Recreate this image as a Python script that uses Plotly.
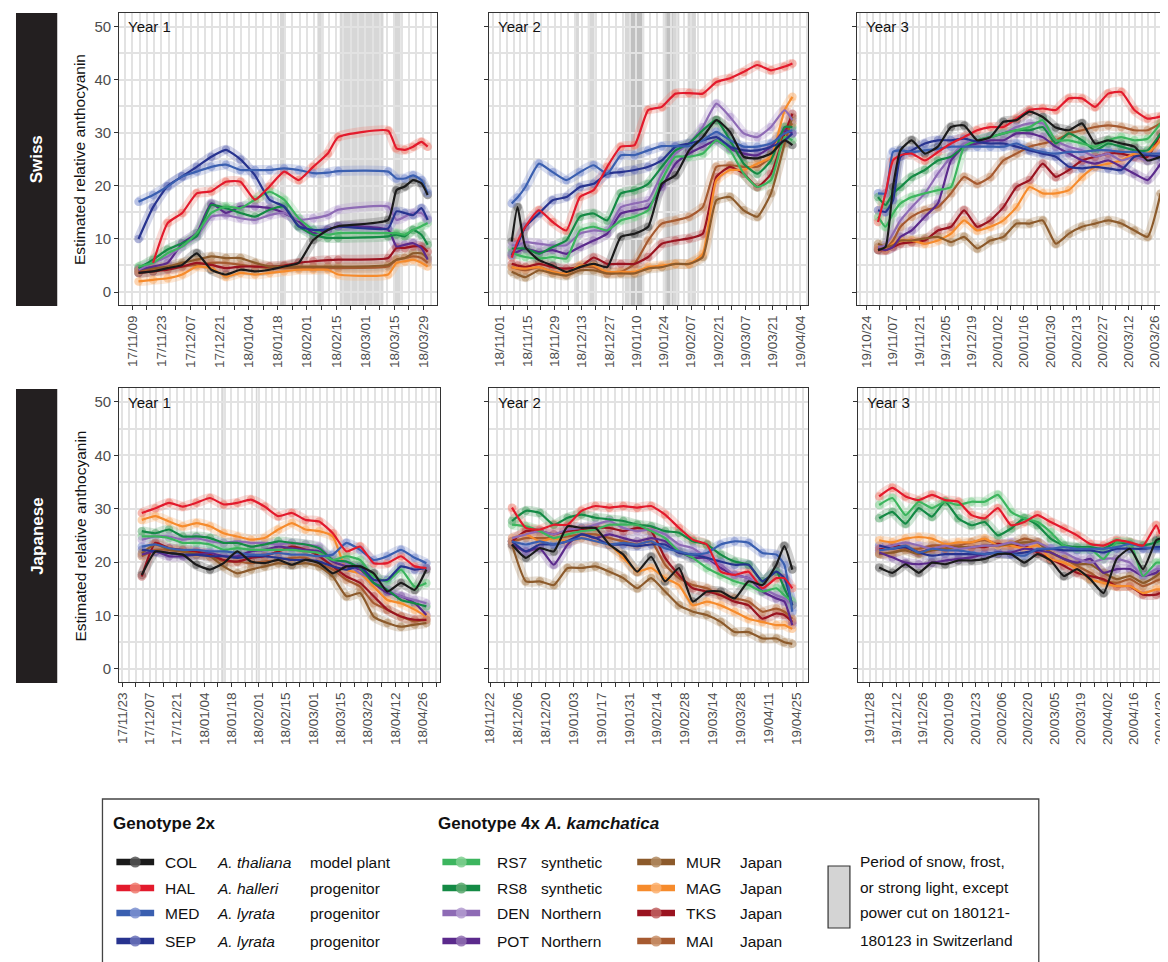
import pandas as pd
import plotly.graph_objects as go

# page is 1168x962; the html body has an 8px margin, so the figure is drawn 8px in
W, H, OFF = 1160, 954, 8
FONT = "Liberation Sans, Arial, Helvetica, sans-serif"

GENOTYPES = ["COL", "HAL", "MED", "SEP", "RS7", "RS8", "DEN", "POT", "MUR", "MAG", "TKS", "MAI"]
LINE_COLORS = {"COL": "#1a1a1a", "HAL": "#e31a2c", "MED": "#3a5fb0", "SEP": "#27338f",
               "RS7": "#3cb55e", "RS8": "#148a45", "DEN": "#8e6bb5", "POT": "#5b2a8c",
               "MUR": "#8c5a2b", "MAG": "#f68b2c", "TKS": "#9a1320", "MAI": "#a65a30"}
POINT_COLORS = {"COL": "#555555", "HAL": "#ee7d70", "MED": "#7d90d0", "SEP": "#6a72b8",
                "RS7": "#7fcf8f", "RS8": "#5aa86f", "DEN": "#b39bd0", "POT": "#8f6fb0",
                "MUR": "#b08a60", "MAG": "#fbb070", "TKS": "#c06262", "MAI": "#c8906a"}

# ---------------- Swiss, Year 1 ----------------
SW1_DATES = ["2017-11-12", "2017-11-19", "2017-11-26", "2017-12-03", "2017-12-10", "2017-12-17",
             "2017-12-24", "2017-12-31", "2018-01-07", "2018-01-14", "2018-01-21", "2018-01-28",
             "2018-02-04", "2018-02-11", "2018-02-16", "2018-03-12", "2018-03-16", "2018-03-20",
             "2018-03-24", "2018-03-28", "2018-03-31"]
SW1_COL = [3.6, 3.9, 4.5, 5.1, 7.3, 4.2, 3.3, 4.2, 3.9, 4.2, 4.8, 5.5, 9.8, 11.7, 12.4, 13.6, 19.2, 19.9, 21.1, 20.5, 18.3]
SW1_HAL = [None, 5.5, 13, 14.9, 18.6, 19, 20.8, 20.8, 17.4, 19.9, 22.7, 21.1, 23.6, 26.1, 29.2, 30.4, 27.1, 26.8, 27.4, 28.3, 27.4]
SW1_MED = [17, 18.3, 19.9, 21.8, 22.7, 23.6, 24, 23, 23, 23, 23.3, 23, 22.4, 22.5, 22.8, 22.7, 21.4, 21.4, 22, 21.1, 18.6]
SW1_SEP = [10, 16, 20, 21.8, 23.6, 25.5, 26.8, 25, 22, 17.4, 16.1, 12.4, 11.7, 11.8, 12.3, 12, 15.2, 14.9, 14.5, 15.8, 13.6]
SW1_RS7 = [4.8, 5.5, 7.3, 8.6, 11.1, 14.9, 16.1, 15.8, 17.4, 18.9, 17.4, 13.9, 11.7, 10.8, 11.1, 11.1, 11.1, 10.8, 11.7, 12.4, 13]
SW1_RS8 = [4.5, 6.1, 8, 9.2, 10.5, 16.4, 15.8, 14.9, 14.2, 15.5, 16.1, 12.4, 10.8, 10.2, 10.2, 10.5, 10.8, 10.5, 11.7, 10.8, 8.9]
SW1_DEN = [4.2, 5.5, 6.7, 8.6, 10.5, 14.2, 14.5, 13.9, 13.6, 14.5, 14.9, 13.6, 13.9, 14.5, 15.5, 16.1, 13.6, 14.2, 14.9, 14.9, 13.6]
SW1_POT = [4.2, 4.8, 5.5, 9.2, 11.1, 16.7, 14.9, 16.1, 16.1, 15.8, 14.9, 13.3, 11.1, 11.7, 12.4, 11.7, 8.6, 8.9, 9.2, 8.3, 6.1]
SW1_MUR = [4.2, 4.5, 4.8, 5.5, 6.1, 6.7, 6.4, 6.4, 5.5, 4.8, 4.8, 4.8, 4.8, 4.8, 4.8, 5.1, 6.1, 6.4, 7.3, 7.3, 6.4]
SW1_MAG = [2, 2.3, 2.6, 3.3, 4.8, 4.5, 2.9, 3.6, 3.3, 3.6, 3.9, 4.2, 4.2, 4.2, 3.3, 3.3, 5.5, 5.8, 6.1, 5.5, 4.8]
SW1_TKS = [3.6, 3.9, 4.2, 4.8, 5.5, 5.1, 4.5, 4.8, 4.8, 4.8, 5, 5.5, 5.8, 6, 6.1, 6.4, 8.3, 8.3, 8.6, 8.6, 7.6]
SW1_MAI = [3.9, 4.2, 4.5, 4.8, 5.1, 5.5, 5.5, 5.1, 4.8, 4.5, 4.5, 4.5, 4.5, 4.5, 4.5, 4.8, 6.1, 6.4, 6.7, 6.4, 5.5]

# ---------------- Swiss, Year 2 ----------------
SW2_DATES = ["2018-11-07", "2018-11-10", "2018-11-14", "2018-11-21", "2018-11-28", "2018-12-05",
             "2018-12-12", "2018-12-19", "2018-12-26", "2019-01-02", "2019-01-09", "2019-01-16",
             "2019-01-23", "2019-01-30", "2019-02-06", "2019-02-13", "2019-02-20", "2019-02-27",
             "2019-03-06", "2019-03-13", "2019-03-20", "2019-03-27", "2019-03-31"]
SW2_COL = [9.5, 16, 8.5, 6, 5, 3.8, 4.7, 5.3, 4.7, 10.4, 11, 12.3, 20.4, 22, 26.7, 29.2, 32.4, 30.2, 25.5, 25.2, 26.1, 28.6, 27.7]
SW2_HAL = [6.5, 9.5, 12.3, 15.4, 13.2, 11.6, 17.9, 19.2, 23.6, 27.4, 27.7, 34.3, 34.9, 37.4, 37.5, 37.4, 39.6, 40.3, 41.5, 42.8, 41.8, 42.5, 43.1]
SW2_MED = [16.7, 17.8, 19.8, 24.2, 22.6, 21.1, 22.6, 23.9, 22.3, 25.8, 25.8, 26.7, 27.5, 27.5, 27.5, 28.6, 30.2, 28.6, 27.4, 27.4, 28, 29.9, 30.5]
SW2_SEP = [6.9, 9, 12.3, 14.8, 17.3, 17.9, 19.8, 20.4, 22.3, 22.6, 23, 23.6, 24.8, 27.4, 28, 28.6, 29.2, 27.4, 26.7, 26.7, 27.4, 28.6, 29.9]
SW2_RS7 = [7.5, 7, 6.6, 6.3, 6.6, 6.3, 11.6, 12.3, 11.6, 13.5, 14.2, 15.4, 21.1, 25.5, 25.5, 26.1, 28.6, 26.7, 22.3, 19.8, 21.1, 29.2, 28.6]
SW2_RS8 = [8.2, 8.2, 8.2, 7.2, 8.5, 9.7, 14.2, 14.8, 13.5, 18.6, 19.2, 20.4, 23.6, 26.7, 28, 30.5, 32.4, 28.6, 24.2, 22.3, 24.8, 31.1, 31.1]
SW2_DEN = [8.8, 8.8, 9.4, 9.1, 8.8, 8.8, 11, 11.6, 11.6, 16, 16.7, 17.3, 22.3, 26.1, 28, 31.1, 35.5, 33, 29.9, 29.2, 31.1, 34.3, 32.4]
SW2_POT = [7.2, 7.6, 8.2, 7.5, 7.9, 7.2, 8.5, 9.7, 11, 14.8, 15.4, 16, 19.8, 24.2, 26.1, 27.4, 28.6, 27, 26.1, 25.8, 27.4, 30.5, 29.9]
SW2_MUR = [3.8, 3.3, 2.8, 4.1, 3.5, 3.1, 4.1, 4.1, 3.5, 3.5, 3.5, 4.4, 4.7, 5.3, 5.3, 6.6, 17.3, 17.9, 15.4, 14.2, 18.6, 28, 33]
SW2_MAG = [4.7, 4.5, 4.4, 4.7, 3.8, 3.5, 5, 5, 3.8, 3.8, 3.8, 4.7, 5, 5.3, 5.3, 7.2, 21.1, 23, 23, 24.2, 25.5, 34.3, 36.8]
SW2_TKS = [5.3, 5, 4.7, 5.3, 4.7, 4.4, 4.7, 6.5, 5.3, 5.3, 5.3, 6.6, 9.1, 9.7, 10.1, 11, 21.7, 23.6, 22.3, 19.8, 22.3, 29.9, 33.6]
SW2_MAI = [4.7, 4.4, 4.1, 4.7, 3.8, 3.5, 4.7, 4.7, 3.5, 3.8, 5.3, 9.7, 12.9, 13.5, 14.2, 16, 23.6, 23.9, 23.6, 23.6, 25.5, 29.9, 31.8]

# ---------------- Swiss, Year 3 ----------------
SW3_DATES = ["2019-10-30", "2019-11-03", "2019-11-07", "2019-11-11", "2019-11-17", "2019-11-24",
             "2019-12-01", "2019-12-08", "2019-12-15", "2019-12-22", "2019-12-29", "2020-01-05",
             "2020-01-12", "2020-01-19", "2020-01-26", "2020-02-02", "2020-02-09", "2020-02-16",
             "2020-02-23", "2020-03-01", "2020-03-08", "2020-03-15", "2020-03-22", "2020-03-29"]
SW3_COL = [7.9, 8.5, 19.8, 26.7, 28.6, 26.1, 27.4, 31.1, 31.4, 28.6, 29.2, 32.1, 32.4, 34, 33, 31, 30.5, 31.8, 28, 28.6, 28, 27.4, 24.8, 25.5]
SW3_HAL = [13.2, 18.6, 24.8, 25.8, 26.1, 24.8, 26.4, 28, 29.2, 30.5, 31.1, 31.1, 32.7, 34.3, 34.6, 34.3, 36.5, 36.5, 34.9, 37.4, 37.7, 34.3, 32.7, 33.1]
SW3_MED = [18.6, 18.6, 26.4, 26.7, 26.4, 26.7, 27, 27.4, 27.4, 27.4, 27.4, 27.4, 28, 27, 26.4, 26.1, 26.4, 26.4, 26.7, 26.7, 26.4, 26.4, 26.1, 26.1]
SW3_SEP = [15.4, 15.1, 17.3, 25.5, 26.7, 28, 28.6, 28.6, 28.9, 28.3, 28, 28, 27.4, 26.7, 26.1, 25.5, 23.6, 23.3, 23.6, 23.3, 23, 25.5, 25.8, 25.5]
SW3_RS7 = [14.2, 12.3, 14.8, 16.7, 17.9, 18.6, 19.2, 19.8, 27.4, 28.6, 29.2, 29.9, 30.5, 31.1, 32.4, 28.6, 28.6, 28, 27.4, 28.6, 29.2, 28.6, 28.9, 31.8]
SW3_RS8 = [17.9, 16.4, 18.6, 19.8, 21.7, 23, 24.8, 25.5, 27.4, 28.6, 29.2, 29.9, 30.5, 30.5, 31.1, 28, 29.9, 28.6, 26.7, 28, 27.4, 26.7, 26.7, 29.9]
SW3_DEN = [8.5, 8.8, 11, 13.5, 16, 18.6, 22.3, 25.5, 28, 28.6, 29.2, 29.9, 31.1, 31.8, 31.8, 28.6, 27.4, 26.7, 25.5, 26.1, 24.8, 25.5, 24.8, 26.1]
SW3_POT = [8.2, 7.9, 8.5, 10.4, 11.6, 14.2, 16.7, 24.8, 27.4, 28, 28.6, 28.6, 29.9, 29.9, 29.2, 27.4, 26.1, 24.8, 24.2, 24.8, 23.6, 22.3, 21.1, 24.2]
SW3_MUR = [9.1, 8.5, 8.8, 9.7, 9.7, 10.1, 10.4, 9.4, 10.4, 8.2, 9.7, 10.4, 12.9, 12.9, 13.5, 9.1, 11, 12.3, 12.9, 13.5, 12.9, 11.6, 10.4, 18.6]
SW3_MAG = [8.2, 7.9, 9.1, 9.7, 9.7, 9.1, 9.7, 11, 13.5, 11.6, 12.3, 13.5, 16, 19.8, 18.6, 18.6, 19.2, 21.7, 23.6, 24.2, 24.8, 26.1, 26.1, 28.6]
SW3_TKS = [7.9, 7.9, 8.5, 9.1, 9.4, 9.7, 11.6, 12.3, 15.4, 12.3, 13.5, 16, 19.8, 21.1, 24.2, 21.7, 23, 24.8, 25.5, 26.1, 26.1, 25.5, 25.5, 29.9]
SW3_MAI = [8.5, 8.2, 9.7, 12.3, 14.2, 15.4, 16, 18.6, 21.7, 20.4, 21.7, 24.8, 26.1, 27.4, 28, 28.6, 29.9, 30.5, 31.1, 31.4, 31.1, 30.5, 30.5, 31.8]

# ---------------- Japanese, Year 1 ----------------
JP1_DATES = ["2017-12-03", "2017-12-10", "2017-12-17", "2017-12-24", "2017-12-31", "2018-01-07",
             "2018-01-14", "2018-01-21", "2018-01-28", "2018-02-04", "2018-02-11", "2018-02-18",
             "2018-02-25", "2018-03-04", "2018-03-11", "2018-03-18", "2018-03-25", "2018-04-01",
             "2018-04-08", "2018-04-15", "2018-04-22", "2018-04-28"]
JP1_COL = [17.6, 22, 21.7, 21.4, 19.5, 18.6, 19.8, 22, 20.1, 19.8, 20.4, 19.5, 20.4, 19.8, 17.9, 19.2, 19.2, 17.9, 14.5, 16.1, 14.8, 18.6]
JP1_HAL = [29.2, 30.1, 31.1, 30.4, 31.1, 32, 30.8, 31.1, 31.7, 30.4, 28.6, 29.2, 27.9, 27.6, 25.4, 22, 22.9, 19.8, 19.8, 21.1, 19.2, 18.9]
JP1_MED = [22.9, 23.3, 22.6, 22.3, 22.3, 22, 22, 21.7, 21.4, 21.4, 21.7, 21.4, 21.4, 21.1, 21.4, 23.6, 22.3, 20.4, 21.1, 22.3, 20.8, 19.8]
JP1_SEP = [22.3, 22, 21.7, 21.4, 21.4, 21.1, 21.1, 20.8, 21.1, 21.1, 20.8, 20.4, 20.4, 20.1, 19.2, 18.6, 19.2, 16.7, 16.7, 19.2, 18.6, 18.9]
JP1_RS7 = [24.8, 24.8, 24.5, 23.6, 23.6, 23.3, 22.3, 22.6, 22.3, 22.3, 22.3, 22.3, 22, 21.7, 20.4, 21.1, 20.4, 17.3, 16.4, 18.6, 15.4, 16.1]
JP1_RS8 = [25.8, 25.4, 26.1, 24.8, 24.8, 24.5, 23.6, 23.6, 22.9, 23.3, 23.9, 23.6, 23.3, 22.6, 20.4, 20.1, 18.9, 16.1, 14.8, 12.9, 12.3, 11.7]
JP1_DEN = [24.2, 24.8, 24.8, 24.2, 24.5, 23.9, 23.6, 23.9, 23.6, 23.6, 23.3, 23.6, 23.3, 22.9, 20.4, 19.8, 17.9, 16.7, 14.8, 13.6, 12.9, 12.3]
JP1_POT = [21.4, 22, 21.1, 21.1, 21.4, 21.7, 21.1, 21.1, 22, 22.3, 22.9, 22.6, 22.3, 22, 20.1, 19.2, 18.6, 16.1, 14.2, 13.6, 12.3, 10.1]
JP1_MUR = [21.7, 23.3, 22.3, 22, 21.4, 21.1, 19.2, 17.9, 18.6, 19.2, 19.8, 19.5, 19.8, 19.2, 17.3, 13.6, 14.2, 9.8, 8.6, 7.9, 8.3, 8.6]
JP1_MAG = [27.9, 28.6, 27.6, 26.7, 27.3, 26.7, 25.4, 24.8, 24.2, 24.5, 26.1, 27.3, 26.1, 25.8, 24.8, 18.6, 17.9, 15.4, 12.9, 12.3, 11.1, 9.8]
JP1_TKS = [17.3, 23.6, 22.6, 22.3, 22, 21.4, 20.4, 20.1, 20.8, 21.1, 22, 22.9, 22.3, 21.1, 19.2, 17.3, 16.1, 13.6, 11.1, 9.8, 9.2, 9.2]
JP1_MAI = [21.1, 22.3, 22.3, 22, 21.7, 21.1, 20.1, 20.1, 19.8, 20.1, 20.4, 20.8, 20.8, 19.8, 18.6, 16.7, 15.4, 12.3, 11.1, 9.8, 8.9, 9.2]

# ---------------- Japanese, Year 2 ----------------
JP2_DATES = ["2018-12-03", "2018-12-10", "2018-12-17", "2018-12-24", "2018-12-31", "2019-01-07",
             "2019-01-14", "2019-01-21", "2019-01-28", "2019-02-04", "2019-02-11", "2019-02-18",
             "2019-02-25", "2019-03-04", "2019-03-11", "2019-03-18", "2019-03-25", "2019-04-01",
             "2019-04-08", "2019-04-15", "2019-04-19", "2019-04-23"]
JP2_COL = [23.3, 20.8, 22.6, 22, 26.7, 26.4, 26.4, 23.3, 21.4, 18.2, 21, 16.4, 18.9, 12.6, 14.5, 14.5, 13.2, 16.4, 15.7, 19.5, 23, 18.6]
JP2_HAL = [30.2, 26.4, 26.1, 27, 27, 29.6, 30.5, 30.2, 30.5, 30.2, 30.5, 28.9, 26.4, 24.2, 23.3, 18.2, 17.6, 18.2, 15.1, 17, 17, 15.1]
JP2_MED = [23.9, 23.3, 23.9, 23.3, 23.9, 24.5, 23.9, 23.3, 23.6, 23.3, 23.9, 22.6, 22, 21.4, 21.7, 23.3, 23.9, 23.6, 21.7, 21.4, 19.5, 10.7]
JP2_SEP = [23.9, 22, 23.3, 23.3, 23.9, 25.2, 24.5, 23.3, 23.3, 23, 23.3, 23.3, 21.7, 21.4, 20.8, 20.1, 19.5, 19.5, 16.4, 18.2, 17, 11.9]
JP2_RS7 = [27, 26.7, 25.8, 24.5, 25.2, 25.8, 26.1, 27, 27, 27, 25.8, 24.5, 22, 20.8, 18.9, 17.6, 16.4, 15.7, 14.5, 15.1, 13.8, 12.6]
JP2_RS8 = [27.7, 29.6, 29.2, 27, 28.3, 28.9, 28.3, 28, 27.7, 27, 26.7, 25.8, 25.5, 23.9, 23.3, 21.4, 20.1, 19.5, 16.4, 18.2, 15.1, 11.9]
JP2_DEN = [24.5, 25.2, 25.8, 25.2, 26.1, 26.4, 27, 27.7, 26.4, 25.8, 26.1, 25.2, 23.3, 22.6, 20.8, 19.5, 17.6, 17, 15.1, 13.8, 13.2, 11.9]
JP2_POT = [23.3, 22, 22.6, 19.5, 23.3, 25.2, 24.5, 25.2, 24.5, 23.9, 24.5, 23.9, 22, 20.8, 20.8, 18.9, 17.6, 17, 14.5, 13.2, 12.6, 8.2]
JP2_MUR = [23.3, 16.4, 16.4, 15.7, 18.9, 18.9, 19.2, 18.2, 17, 15.1, 17, 14.5, 11.9, 10.7, 10.1, 8.8, 6.9, 6.9, 5.7, 5.7, 5, 4.7]
JP2_MAG = [24.5, 25.2, 23.9, 24.5, 23.9, 24.5, 23.9, 23.3, 20.8, 18.2, 18.9, 17, 15.7, 11.9, 12.6, 11.9, 10.7, 9.4, 8.8, 8.2, 8.2, 7.5]
JP2_TKS = [23.9, 25.8, 25.8, 25.2, 25.8, 26.1, 26.4, 26.4, 25.8, 26.4, 25.8, 20.8, 17.6, 15.1, 14.5, 13.8, 12.6, 11.9, 9.4, 10.4, 10.1, 8.8]
JP2_MAI = [23.9, 24.5, 24.5, 24.5, 24.8, 25.2, 25.2, 24.5, 23.9, 23.3, 23.9, 19.5, 17, 15.7, 15.1, 13.8, 13.2, 12.6, 10.7, 11.3, 10.7, 9.4]

# ---------------- Japanese, Year 3 ----------------
JP3_DATES = ["2019-12-03", "2019-12-10", "2019-12-17", "2019-12-24", "2019-12-31", "2020-01-07",
             "2020-01-14", "2020-01-21", "2020-01-28", "2020-02-04", "2020-02-11", "2020-02-18",
             "2020-02-25", "2020-03-03", "2020-03-10", "2020-03-17", "2020-03-24", "2020-03-31",
             "2020-04-07", "2020-04-14", "2020-04-21", "2020-04-28", "2020-04-30"]
JP3_COL = [19, 18, 19.6, 18, 19.9, 19.6, 20.3, 20.3, 20.6, 21.5, 21.5, 19.9, 21.5, 20.3, 17.4, 18.7, 16.8, 14.2, 20.6, 22.5, 18.7, 24.1, 24.4]
JP3_HAL = [32.3, 33.9, 32.3, 31.6, 32.6, 31.6, 31.3, 28.8, 28.2, 30.1, 26.9, 27.5, 28.8, 27.5, 26.3, 25, 23.4, 23.1, 24.1, 23.7, 23.1, 26.9, 25.3]
JP3_MED = [22.2, 22.5, 23.1, 21.8, 22.5, 22.2, 22.2, 21.8, 21.5, 21.8, 21.5, 21.2, 22.5, 22.5, 22.8, 22.5, 22.5, 22.5, 22.8, 23.4, 22.8, 22.5, 22.5]
JP3_SEP = [23.1, 22.5, 22.8, 21.8, 21.2, 21.5, 21.5, 21.5, 21.5, 21.8, 21.5, 21.8, 22.2, 22.5, 22.2, 22.2, 22.2, 21.8, 22.5, 22.5, 22.5, 22.8, 22.8]
JP3_RS7 = [30.7, 32, 28.8, 31.3, 30.1, 31.3, 30.7, 31.3, 31.3, 32.6, 29.4, 28.2, 27.5, 25.6, 23.1, 22.5, 22.5, 20.6, 23.7, 23.7, 17.4, 19.9, 19.9]
JP3_RS8 = [28.2, 29.4, 27.2, 30.1, 28.5, 31.3, 28.2, 26.9, 27.5, 25, 26.3, 28.2, 26.9, 24.4, 23.1, 22.8, 22.8, 22.5, 23.7, 23.4, 23.1, 23.7, 24.1]
JP3_DEN = [22.8, 23.1, 23.7, 23.1, 22.5, 23.1, 22.5, 22.8, 23.1, 23.1, 23.7, 23.1, 23.7, 22.5, 21.8, 20.6, 19.9, 20.6, 20.6, 19.9, 17.4, 18.7, 18.7]
JP3_POT = [21.8, 20.9, 19.9, 19.6, 19.9, 20.3, 20.6, 20.9, 21.5, 21.8, 21.8, 22.5, 22.2, 21.8, 20.6, 19.9, 20.6, 18, 18.7, 18.7, 17.4, 18, 18.7]
JP3_MUR = [21.5, 21.8, 22.2, 21.5, 22.2, 22.5, 22.8, 22.8, 23.1, 23.1, 23.4, 23.7, 23.7, 21.8, 20.6, 19.6, 19.6, 18, 16.8, 17.4, 16.1, 17.4, 18]
JP3_MAG = [24.1, 23.7, 24.4, 24.7, 24.4, 23.4, 23.7, 23.7, 24.4, 23.1, 23.1, 22.5, 23.1, 20.6, 19.9, 18.7, 16.8, 16.1, 15.5, 15.5, 14.2, 14.9, 14.9]
JP3_TKS = [22.5, 23.1, 22.8, 21.8, 22.5, 22.5, 22.8, 22.8, 22.8, 23.4, 23.1, 23.1, 21.8, 20.6, 19.3, 18, 17.4, 16.8, 15.5, 15.5, 13.9, 13.9, 14.2]
JP3_MAI = [21.5, 21.8, 22.5, 22.5, 23.1, 23.1, 23.1, 23.7, 24.1, 23.4, 23.4, 24.4, 23.7, 21.8, 20.6, 19.3, 18, 16.5, 16.1, 16.8, 15.5, 16.5, 16.8]

# snow / frost / strong light periods per panel
SW1_SNOW = [("2018-01-19", "2018-01-21"), ("2018-02-06", "2018-02-09"),
            ("2018-02-16 18:00", "2018-03-09 18:00"), ("2018-03-15", "2018-03-18")]
SW2_SNOW = [("2018-12-10", "2018-12-11 12:00"), ("2018-12-16", "2018-12-19 12:00"),
            ("2019-01-04", "2019-01-14"), ("2019-01-06 12:00", "2019-01-13"),
            ("2019-01-23 12:00", "2019-02-01"), ("2019-01-25 12:00", "2019-01-28 12:00"),
            ("2019-02-05 06:00", "2019-02-09 12:00")]
SW3_SNOW = [("2020-02-25 06:00", "2020-02-26 06:00")]
JP1_SNOW = [("2018-01-12 18:00", "2018-01-14"), ("2018-01-30 12:00", "2018-01-31 08:00")]
JP2_SNOW = []
JP3_SNOW = []

YEAR_LABELS = ["Year 1", "Year 2", "Year 3"]
ROW_LABELS = ["Swiss", "Japanese"]
Y_TITLE = "Estimated relative anthocyanin"

LEGEND_2X = [("COL", "A. thaliana", "model plant"), ("HAL", "A. halleri", "progenitor"),
             ("MED", "A. lyrata", "progenitor"), ("SEP", "A. lyrata", "progenitor")]
LEGEND_4X_A = [("RS7", "synthetic"), ("RS8", "synthetic"), ("DEN", "Northern"), ("POT", "Northern")]
LEGEND_4X_B = [("MUR", "Japan"), ("MAG", "Japan"), ("TKS", "Japan"), ("MAI", "Japan")]
SNOW_TEXT = ["Period of snow, frost,", "or strong light, except",
             "power cut on 180121-", "180123 in Switzerland"]

# ---------------- layout geometry (page pixels) ----------------
PANELS = [
    dict(key="SW1", x=(113, 433), y=(13, 305), rng=("2017-11-02 19:00", "2018-04-04 17:00"), first="2017-11-09"),
    dict(key="SW2", x=(485, 806), y=(13, 305), rng=("2018-10-26 10:00", "2019-04-08 02:00"), first="2018-11-01"),
    dict(key="SW3", x=(855, 1167), y=(13, 305), rng=("2019-10-18 17:00", "2020-04-01 10:00"), first="2019-10-24"),
    dict(key="JP1", x=(113, 436), y=(388, 682), rng=("2017-11-21 12:00", "2018-05-05 05:00"), first="2017-11-23"),
    dict(key="JP2", x=(485, 806), y=(388, 682), rng=("2018-11-21 12:00", "2019-05-01 00:00"), first="2018-11-22"),
    dict(key="JP3", x=(856, 1167), y=(388, 682), rng=("2019-11-21 17:00", "2020-05-03 17:00"), first="2019-11-28"),
]
Y_RANGE = [-2.45, 52.6]
PAD = 5  # inner padding of annotation boxes


def px(x):
    return (x - OFF) / W


def py(y):
    return 1 - (y - OFF) / H


def date_ticks(first, start, end):
    f, s, e = pd.Timestamp(first), pd.Timestamp(start), pd.Timestamp(end)
    vals, texts, minor = [], [], []
    t = f - pd.Timedelta(days=28)
    while t <= e:
        if t >= s:
            vals.append(t.strftime("%Y-%m-%d %H:%M:%S"))
            texts.append(t.strftime("%y/%m/%d") if ((t - f).days % 14 == 0) else "")
        m = t + pd.Timedelta(hours=84)
        if s <= m <= e:
            minor.append(m.strftime("%Y-%m-%d %H:%M:%S"))
        t += pd.Timedelta(days=7)
    return vals, texts, minor


fig = go.Figure()
shapes, annotations = [], []
GRID = "#e2e2e2"

for i, p in enumerate(PANELS):
    n = "" if i == 0 else str(i + 1)
    key = p["key"]
    dates = pd.to_datetime(globals()[key + "_DATES"])
    series = {g: globals()[f"{key}_{g}"] for g in GENOTYPES}
    for g, v in series.items():
        assert len(v) == len(dates), (key, g, len(v), len(dates))

    # point clouds (halo + points)
    for g in GENOTYPES:
        fig.add_trace(go.Scatter(x=dates, y=series[g], mode="lines", xaxis="x" + n, yaxis="y" + n,
                                 line=dict(color=POINT_COLORS[g], width=10, shape="spline", smoothing=0.5),
                                 opacity=0.28, showlegend=False, hoverinfo="skip"))
    for g in GENOTYPES:
        fig.add_trace(go.Scatter(x=dates, y=series[g], mode="markers", xaxis="x" + n, yaxis="y" + n,
                                 marker=dict(color=POINT_COLORS[g], size=8.5, opacity=0.55, line=dict(width=0)),
                                 showlegend=False, name=g))
    # smoothed lines, COL on top
    for g in GENOTYPES[::-1]:
        fig.add_trace(go.Scatter(x=dates, y=series[g], mode="lines", xaxis="x" + n, yaxis="y" + n,
                                 line=dict(color=LINE_COLORS[g], width=2.2, shape="spline", smoothing=0.5),
                                 showlegend=False, name=g))

    vals, texts, minor = date_ticks(p["first"], *p["rng"])
    left = i % 3 == 0
    fig.update_layout(**{
        "xaxis" + n: dict(domain=[px(p["x"][0]), min(1.0, px(p["x"][1]))], range=list(p["rng"]), type="date",
                          anchor="y" + n, tickmode="array", tickvals=vals, ticktext=texts,
                          tickangle=-90, ticks="outside", ticklen=4, tickcolor="#333333",
                          tickfont=dict(size=13.5, color="#4d4d4d", family=FONT),
                          showgrid=True, gridcolor=GRID, gridwidth=2,
                          minor=dict(tickmode="array", tickvals=minor, showgrid=True,
                                     gridcolor=GRID, gridwidth=2, ticks=""),
                          showline=True, mirror=True, linecolor="#333333", linewidth=1.3,
                          zeroline=False, fixedrange=True),
        "yaxis" + n: dict(domain=[py(p["y"][1]), py(p["y"][0])], range=Y_RANGE, anchor="x" + n,
                          tickmode="linear", tick0=0, dtick=10, showticklabels=left,
                          ticks="outside", ticklen=4, tickcolor="#333333",
                          tickfont=dict(size=15, color="#4d4d4d", family=FONT),
                          showgrid=True, gridcolor=GRID, gridwidth=2,
                          minor=dict(dtick=5, tick0=0, showgrid=True, gridcolor=GRID, gridwidth=2, ticks=""),
                          showline=True, mirror=True, linecolor="#333333", linewidth=1.3,
                          zeroline=False, fixedrange=True),
    })

    for (a, b) in globals()[key + "_SNOW"]:
        shapes.append(dict(type="rect", xref="x" + n, yref="paper", x0=a, x1=b,
                           y0=py(p["y"][1]), y1=py(p["y"][0]),
                           fillcolor="rgba(160,160,160,0.42)", line=dict(width=0), layer="below"))

    annotations.append(dict(text=YEAR_LABELS[i % 3], x=px(p["x"][0] + 10 - 3), y=py(p["y"][0] + 14),
                            xref="paper", yref="paper", xanchor="left", yanchor="middle", showarrow=False,
                            font=dict(size=15, color="#111111", family=FONT)))

# row strips and y titles
for r, (y0, y1) in enumerate([(13, 306), (389, 683)]):
    shapes.append(dict(type="rect", xref="paper", yref="paper", x0=px(9), x1=px(50.5), y0=py(y1), y1=py(y0),
                       fillcolor="#231f20", line=dict(width=0)))
    annotations.append(dict(text=f"<b>{ROW_LABELS[r]}</b>", x=px(30), y=py((y0 + y1) / 2), xref="paper",
                            yref="paper", xanchor="center", yanchor="middle", textangle=-90, showarrow=False,
                            font=dict(size=17, color="white", family=FONT)))
    annotations.append(dict(text=Y_TITLE, x=px(73), y=py((y0 + y1) / 2), xref="paper", yref="paper",
                            xanchor="center", yanchor="middle", textangle=-90, showarrow=False,
                            font=dict(size=15.5, color="#111111", family=FONT)))

# legend box
shapes.append(dict(type="rect", xref="paper", yref="paper", x0=px(96), x1=px(1038), y0=py(985), y1=py(799),
                   fillcolor="rgba(0,0,0,0)", line=dict(color="#444444", width=1.3)))
LEG_ROWS = [862, 888, 913, 941]
LEG_FONT = dict(size=15.5, color="#111111", family=FONT)


def legend_key(g, xa, xb, yy):
    shapes.append(dict(type="line", xref="paper", yref="paper", x0=px(xa), x1=px(xb), y0=py(yy), y1=py(yy),
                       line=dict(color=LINE_COLORS[g], width=6.5)))
    c = (xa + xb) / 2
    rad = 5.5
    shapes.append(dict(type="circle", xref="paper", yref="paper", x0=px(c - rad), x1=px(c + rad),
                       y0=py(yy + rad), y1=py(yy - rad), fillcolor=POINT_COLORS[g], opacity=0.85,
                       line=dict(width=0)))


def legend_text(t, x, yy, italic=False, bold=False, size=None):
    s = t
    if italic:
        s = f"<i>{s}</i>"
    if bold:
        s = f"<b>{s}</b>"
    f = dict(LEG_FONT)
    if size:
        f["size"] = size
    annotations.append(dict(text=s, x=px(x - PAD), y=py(yy), xref="paper", yref="paper", xanchor="left",
                            yanchor="middle", showarrow=False, font=f))


legend_text("Genotype 2x", 110, 823, bold=True, size=17)
legend_text("Genotype 4x <i>A. kamchatica</i>", 437, 823, bold=True, size=17)
for k, (g, sp, role) in enumerate(LEGEND_2X):
    legend_key(g, 110, 148, LEG_ROWS[k])
    legend_text(g, 162, LEG_ROWS[k])
    legend_text(sp, 214, LEG_ROWS[k], italic=True)
    legend_text(role, 308, LEG_ROWS[k])
for k, (g, orig) in enumerate(LEGEND_4X_A):
    legend_key(g, 438, 476, LEG_ROWS[k])
    legend_text(g, 496, LEG_ROWS[k])
    legend_text(orig, 540, LEG_ROWS[k])
for k, (g, orig) in enumerate(LEGEND_4X_B):
    legend_key(g, 634, 672, LEG_ROWS[k])
    legend_text(g, 686, LEG_ROWS[k])
    legend_text(orig, 740, LEG_ROWS[k])
shapes.append(dict(type="rect", xref="paper", yref="paper", x0=px(826), x1=px(848), y0=py(928), y1=py(866),
                   fillcolor="#d4d4d4", line=dict(color="#333333", width=1.2)))
for k, t in enumerate(SNOW_TEXT):
    legend_text(t, 861, LEG_ROWS[k] - 1)

fig.update_layout(width=W, height=H, margin=dict(l=0, r=0, t=0, b=0),
                  paper_bgcolor="white", plot_bgcolor="white", showlegend=False,
                  shapes=shapes, annotations=annotations, font=dict(family=FONT))
fig.write_html("out.html")
